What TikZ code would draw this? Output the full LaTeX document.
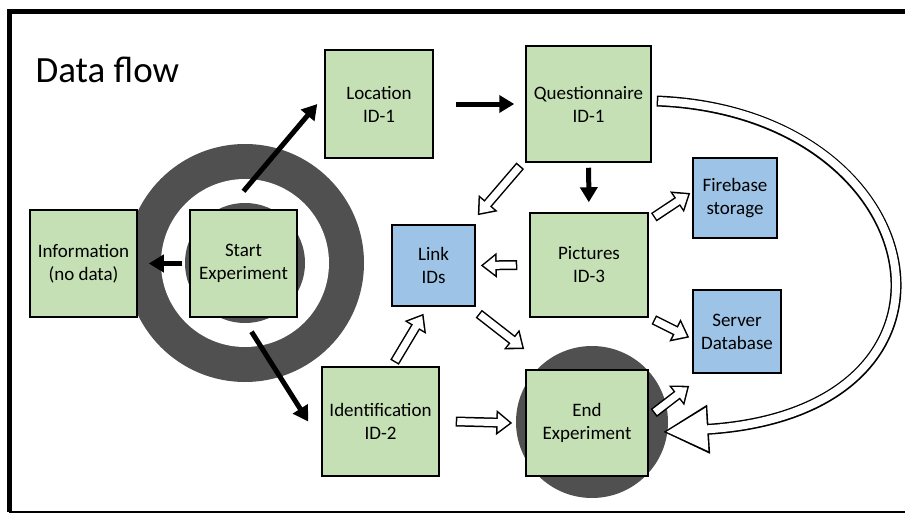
\documentclass[tikz,border=0pt]{standalone}
\usepackage{fontspec}
\setmainfont{Carlito}
\usetikzlibrary{arrows.meta}

\definecolor{boxgreen}{RGB}{197,224,180}
\definecolor{boxblue}{RGB}{157,195,230}
\definecolor{ringgray}{RGB}{80,80,80}

\tikzset{
  box/.style={draw=black, line width=1.5pt, align=center, inner sep=0pt,
    font=\fontsize{19}{23}\selectfont},
  greenbox/.style={box, fill=boxgreen},
  bluebox/.style={box, fill=boxblue},
  flow/.style={line width=5pt, -{Triangle[length=15pt, width=17pt]}},
  % white arrow drawn over a black one
  hollow/.style={draw=white, line width=7pt, shorten <=1.5pt, shorten >=2.5pt,
    -{Triangle[length=12pt, width=18pt]},
    preaction={draw=black, line width=10pt, shorten <=0pt, shorten >=0pt,
      -{Triangle[length=16pt, width=24pt]}}},
  bigloop/.style={draw=white, line width=8pt, shorten <=1.5pt, shorten >=3.4pt,
    -{Triangle[length=41pt, width=41pt]},
    preaction={draw=black, line width=11pt, shorten <=0pt, shorten >=0pt,
      -{Triangle[length=46pt, width=46pt]}}},
}

\begin{document}
\begin{tikzpicture}[x=1pt, y=-1pt]
              \useasboundingbox (0, 0) rectangle (905, 514);
              % frame
              \draw[line width=5pt] (910, 11) -- (9, 11) -- (9, 512);
              \draw[line width=2pt] (9, 512) -- (910, 512);
              \node at (32, 70) [anchor=west, font=\fontsize{37}{42}\selectfont] {Data flow};
              % rings
              \fill[ringgray] (245, 263) circle (119);
              \fill[white] (245, 263) circle (84);
              \fill[ringgray] (245, 263) circle (60);
              \fill[ringgray] (592, 422) circle (76);
              % boxes
              \node (info) at (83.5, 263.5) [greenbox, minimum width=107pt, minimum height=107pt] {Information\\(no data)};
              \node (start) at (243.5, 263.5) [greenbox, minimum width=107pt, minimum height=107pt] {Start\\Experiment};
              \node (loc) at (379, 104) [greenbox, minimum width=108pt, minimum height=108pt] {Location\\ID-1};
              \node (quest) at (588.5, 104) [greenbox, minimum width=125pt, minimum height=116pt] {Questionnaire\\ID-1};
              \node (pics) at (589, 265) [greenbox, minimum width=118pt, minimum height=104pt] {Pictures\\ID-3};
              \node (link) at (433.5, 265.5) [bluebox, minimum width=83pt, minimum height=81pt] {Link\\IDs};
              \node (fire) at (735, 198) [bluebox, minimum width=84pt, minimum height=80pt] {Firebase\\storage};
              \node (server) at (737, 331.5) [bluebox, minimum width=88pt, minimum height=83pt] {Server\\Database};
              \node (ident) at (380.5, 421.5) [greenbox, minimum width=117pt, minimum height=109pt] {Identification\\ID-2};
              \node (endexp) at (587, 423) [greenbox, minimum width=122pt, minimum height=106pt] {End\\Experiment};
              % black arrows
              \draw[flow, shorten <=7pt, shorten >=11pt] (start) -- (info);
              \draw[flow] ([yshift=18pt]start.north) -- ([xshift=-7pt]loc.west);
              \draw[flow] ([xshift=8pt, yshift=-14pt]start.south) -- ([xshift=-13pt]ident.west);
              \draw[flow, shorten <=22pt, shorten >=11pt] (loc) -- (quest);
              \draw[flow, shorten <=5pt, shorten >=10pt] (quest) -- (pics);
              % hollow arrows
              \draw[hollow] ([xshift=-5pt, yshift=-3pt]quest.south west) -- ([xshift=2pt, yshift=9pt]link.north east);
              \draw[hollow] ([xshift=-12pt]pics.west) -- ([xshift=5pt]link.east);
              \draw[hollow] ([xshift=5pt, yshift=-5pt]pics.north east) -- ([xshift=-2pt, yshift=5pt]fire.west);
              \draw[hollow] ([xshift=5pt, yshift=-2pt]pics.south east) -- ([xshift=-3pt, yshift=-6pt]server.west);
              \draw[hollow] ([xshift=5pt, yshift=10pt]endexp.east) -- ([xshift=-3pt, yshift=-12pt]server.south west);
              \draw[hollow] ([xshift=3pt, yshift=-7pt]link.south east) -- ([xshift=-1pt, yshift=20pt]endexp.north west);
              \draw[hollow] ([xshift=14pt, yshift=4pt]ident.north) -- ([xshift=-10pt, yshift=-7pt]link.south);
              \draw[hollow] ([xshift=16pt]ident.east) -- ([xshift=-13pt]endexp.west);
              % loop back to the end
              \draw[bigloop] ([xshift=5pt, yshift=3pt]quest.east) .. controls (935, 112) and (995, 412) .. ([shift={(14, 9)}]endexp.east);
\end{tikzpicture}
\end{document}
